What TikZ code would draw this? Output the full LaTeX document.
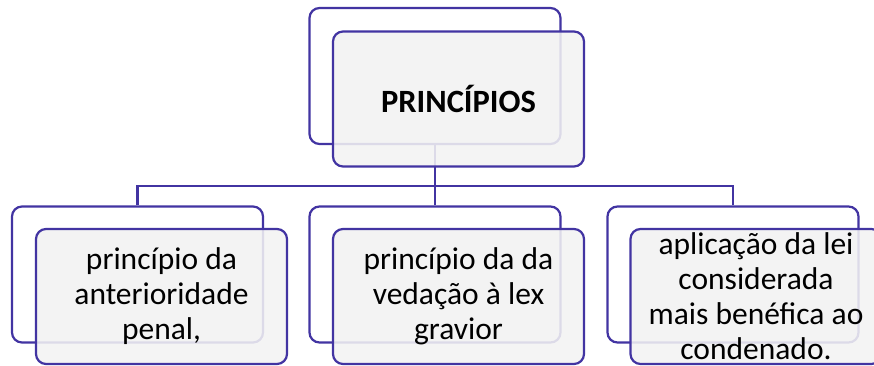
\documentclass[tikz,border=0pt]{standalone}
\usepackage{fontspec}
\setmainfont{Carlito}
\usepackage{tikz}

\definecolor{boxline}{RGB}{66,52,162}
\definecolor{boxfill}{RGB}{242,242,242}

\begin{document}
\begin{tikzpicture}[x=1pt,y=1pt,yscale=-1,
  backbox/.style={draw=boxline,line width=2.2pt,rounded corners=10pt,fill=white,
    minimum width=251pt,minimum height=136pt,inner sep=0pt},
  frontbox/.style={draw=boxline,line width=2.2pt,rounded corners=10pt,fill=boxfill,fill opacity=0.88,
    text opacity=1,minimum width=251pt,minimum height=135pt,inner sep=0pt,align=center,
    font=\fontsize{31.5}{35}\selectfont},
  link/.style={draw=boxline,line width=2.2pt}]
\useasboundingbox (0,0) rectangle (874,365);
\clip (0,0) rectangle (874,365);

% Shape: back boxes
\node [backbox] (topback) at (435,76) {};
\node [backbox] (leftback) at (137.5,274.5) {};
\node [backbox] (midback) at (435,274.5) {};
\node [backbox] (rightback) at (733,274.5) {};

% Lines
\coordinate (bus) at (435,186);
\draw [link] (topback.south) -- (bus);
\draw [link] (leftback.north) |- (bus) -| (rightback.north);
\draw [link] (bus) -- (midback.north);

% Text Node
\node [frontbox,font=\fontsize{32.5}{35}\selectfont\bfseries] (top) at (458.5,99) {PRINCÍPIOS};
% Text Node
\node [frontbox] (left) at (161.5,296.5) {princípio da\\anterioridade\\penal,};
% Text Node
\node [frontbox] (mid) at (458.5,296.5) {princípio da da\\vedação à lex\\gravior};
% Text Node
\node [frontbox] (right) at (756,296.5) {aplicação da lei\\considerada\\mais benéfica ao\\condenado.};
\end{tikzpicture}
\end{document}
